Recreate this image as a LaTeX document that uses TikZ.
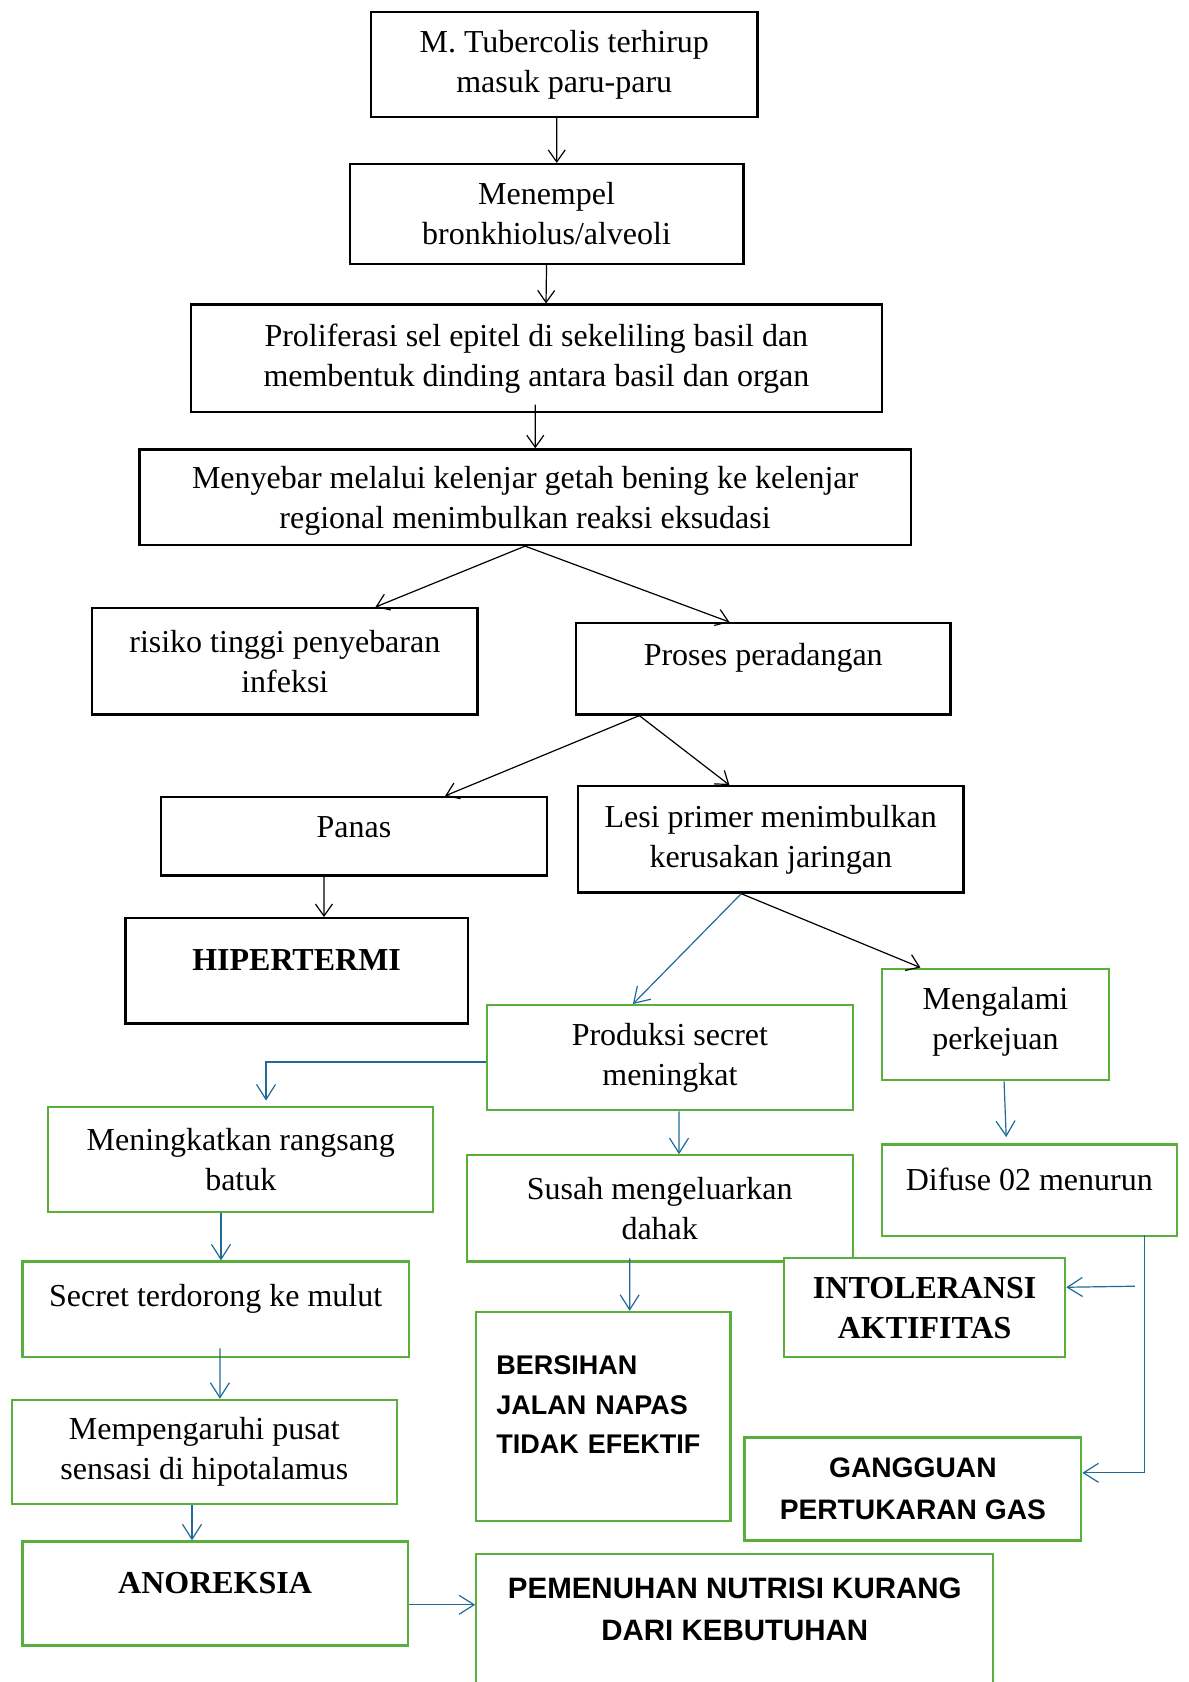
\documentclass[tikz,border=0pt]{standalone}
\usepackage{fontspec}
\setmainfont{Liberation Serif}
\setsansfont{Liberation Sans}
\usetikzlibrary{positioning,calc,arrows.meta}
\definecolor{kgreen}{HTML}{5AAE3A}
\definecolor{kblue}{HTML}{1F6A96}
\newcommand\pxu{0.5366pt}

\begin{document}
\begin{tikzpicture}[
  x=\pxu, y=-\pxu,
  font=\fontsize{16}{20}\selectfont,
  box/.style={draw,line width=1.2pt,fill=white,align=center,inner sep=0pt},
  gbox/.style={box,draw=kgreen,line width=1.1pt},
  sz/.style 2 args={minimum width=#1*\pxu,minimum height=#2*\pxu},
  lift/.style={text depth=#1},
  bold/.style={font=\bfseries\fontsize{16}{20}\selectfont},
  diag/.style={font=\sffamily\bfseries\fontsize{#1}{21}\selectfont},
  arr/.style={-{Straight Barb[length=6pt,width=8.5pt]},line width=0.6pt},
  barr/.style={-{Straight Barb[length=7.5pt,width=9.5pt]},line width=0.6pt,draw=kblue}
]
\useasboundingbox (0,0) rectangle (1108,1568);

% black part
\node[box,sz={360}{98},lift=3pt] (tb) at (526,60) {M. Tubercolis terhirup\\masuk paru-paru};
\node[box,sz={367}{93}] (mp) at (509.5,199.5) {Menempel\\bronkhiolus/alveoli};
\node[box,sz={644}{100}] (pr) at (500,334) {Proliferasi sel epitel di sekeliling basil dan\\membentuk dinding antara basil dan organ};
\node[box,sz={719}{89},lift=0pt] (ms) at (489.5,463.5) {Menyebar melalui kelenjar getah bening ke kelenjar\\regional menimbulkan reaksi eksudasi};
\node[box,sz={359}{99}] (rs) at (265.5,616.5) {risiko tinggi penyebaran\\infeksi};
\node[box,sz={349}{85},lift=14pt] (pp) at (711.5,623.5) {Proses peradangan};
\node[box,sz={360}{73},lift=9pt] (pn) at (330,779.5) {Panas};
\node[box,sz={359}{99}] (ls) at (718.5,782.5) {Lesi primer menimbulkan\\kerusakan jaringan};
\node[box,sz={319}{98},lift=11pt,bold] (hp) at (276.5,905) {HIPERTERMI};

% green part
\node[gbox,sz={341}{98}] (ps) at (624.5,986) {Produksi secret\\meningkat};
\node[gbox,sz={212}{104},lift=6pt] (mk) at (928,955) {Mengalami\\perkejuan};
\node[gbox,sz={359}{98}] (mr) at (224.5,1081) {Meningkatkan rangsang\\batuk};
\node[gbox,sz={360}{99}] (sm) at (615,1126.5) {Susah mengeluarkan\\dahak};
\node[gbox,sz={275}{85},lift=11pt] (df) at (959.5,1109.5) {Difuse 02 menurun};
\node[gbox,sz={360}{89},lift=14pt] (st) at (201,1220.5) {Secret terdorong ke mulut};
\node[gbox,sz={262}{92},bold] (it) at (862,1219) {INTOLERANSI\\AKTIFITAS};
\node[gbox,sz={237}{195},font=\sffamily\bfseries\fontsize{13.5}{19.6}\selectfont,
      align=left,text width=107pt,lift=51pt] (bj) at (562.5,1320.5) {BERSIHAN\\JALAN NAPAS\\TIDAK EFEKTIF};
\node[gbox,sz={359}{97}] (mh) at (190.5,1353.5) {Mempengaruhi pusat\\sensasi di hipotalamus};
\node[gbox,sz={314}{96},diag=14.1] (gg) at (851,1388) {GANGGUAN\\PERTUKARAN GAS};
\node[gbox,sz={359}{97},lift=11pt,bold] (an) at (200.5,1485.5) {ANOREKSIA};
\node[gbox,sz={482}{130},diag=14.75,lift=14.5pt] (pk) at (685,1514) {PEMENUHAN NUTRISI KURANG\\DARI KEBUTUHAN};

% arrows
\draw[arr] ($(tb.south)+(-7,0)$) -- ($(mp.north)+(9.5,0)$);
\draw[arr] (mp.south) -- ($(pr.north)+(9,0)$);
\draw[arr] ($(pr.south)+(-1,-8)$) -- ($(ms.north)+(9.5,0)$);
\draw[arr] (ms.south) -- ($(rs.north)+(84.5,0)$);
\draw[arr] (ms.south) -- ($(pp.north)+(-31.5,0)$);
\draw[arr] ($(pp.south)+(-115.5,0)$) -- ($(pn.north)+(85,0)$);
\draw[arr] ($(pp.south)+(-115.5,0)$) -- ($(ls.north)+(-38.5,0)$);
\draw[arr] ($(pn.south)+(-28,0)$) -- ($(hp.north)+(25.5,0)$);
\draw[arr] ($(ls.south)+(-27.5,0)$) -- ($(mk.north)+(-70,0)$);
\draw[barr] ($(ls.south)+(-27.5,0)$) -- ($(ps.north)+(-34.5,0)$);
\draw[barr] ($(ps.west)+(0,4)$) -| ($(mr.north)+(23.5,-5)$);
\draw[barr] ($(ps.south)+(8.5,0)$) -- ($(sm.north)+(18,0)$);
\draw[barr] ($(mk.south)+(8,0)$) -- ($(df.north)+(-21.5,-6)$);
\draw[barr] ($(mr.south)+(-18.5,0)$) -- ($(st.north)+(5,0)$);
\draw[barr] ($(sm.south)+(-28,-4)$) -- ($(bj.north)+(24.5,0)$);
\draw[barr] ($(st.south)+(4,-9)$) -- ($(mh.north)+(14.5,0)$);
\draw[barr] ($(mh.south)+(-11.5,0)$) -- ($(an.north)+(-21.5,0)$);
\draw[barr] ($(df.south east)+(-40,46)$) -- ($(it.east)+(0,-19)$);
\draw[barr] ($(df.south east)+(-31,-2)$) |- ($(gg.east)+(0,-15)$);
\coordinate (ae) at ($(an.east)+(0,10.5)$);
\draw[barr] (ae) -- (ae -| pk.west);
\end{tikzpicture}
\end{document}
